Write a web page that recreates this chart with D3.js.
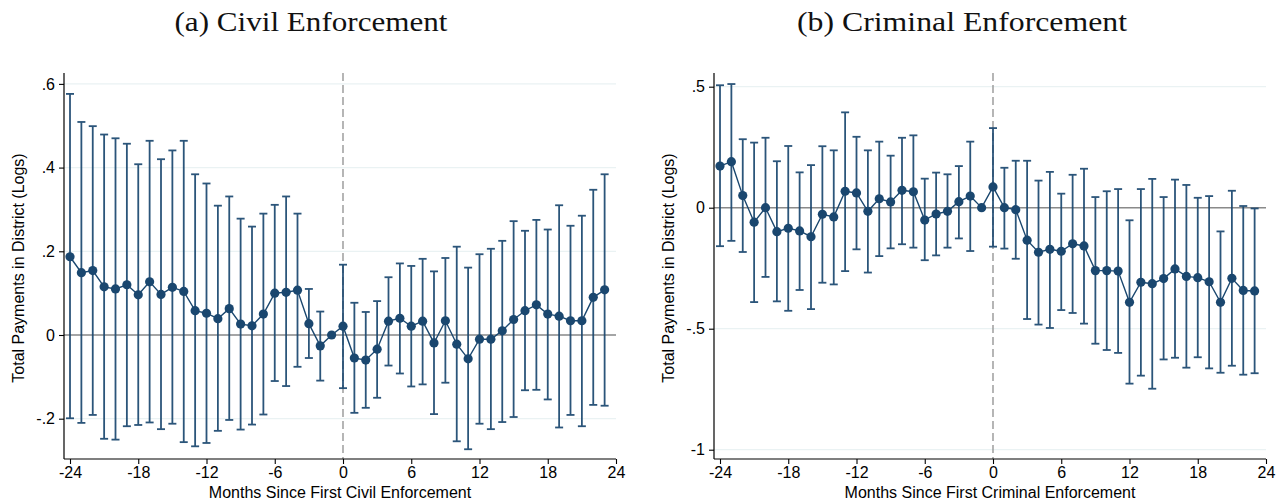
<!DOCTYPE html>
<html>
<head>
<meta charset="utf-8">
<script src="https://cdn.jsdelivr.net/npm/d3@7"></script>
<style>
  html, body { margin: 0; padding: 0; background: #fff; }
  svg { display: block; }
</style>
</head>
<body>
<svg id="chart" width="1285" height="503"></svg>
<script>
// Event-time months relative to first enforcement (-1 is the omitted reference month)
const months = [-24,-23,-22,-21,-20,-19,-18,-17,-16,-15,-14,-13,-12,-11,-10,-9,-8,-7,-6,-5,-4,-3,-2,-1,
                0,1,2,3,4,5,6,7,8,9,10,11,12,13,14,15,16,17,18,19,20,21,22,23];
const xTicks = [-24,-18,-12,-6,0,6,12,18,24];

// (a) Civil enforcement: coefficients and 95% CI bounds
const civilCoef = [0.187,0.149,0.154,0.115,0.110,0.120,0.096,0.127,0.097,0.114,0.104,0.058,0.052,0.039,0.063,0.026,0.022,0.050,0.100,0.102,0.107,0.027,-0.026,0,
                   0.021,-0.055,-0.060,-0.034,0.033,0.040,0.021,0.033,-0.019,0.034,-0.022,-0.057,-0.010,-0.010,0.010,0.037,0.058,0.072,0.050,0.045,0.034,0.034,0.090,0.108];
const civilUpper = [0.576,0.509,0.499,0.479,0.470,0.457,0.408,0.464,0.420,0.441,0.464,0.384,0.362,0.309,0.331,0.278,0.259,0.290,0.311,0.331,0.290,0.110,0.056,null,
                    0.168,0.077,0.055,0.081,0.138,0.171,0.165,0.182,0.152,0.184,0.211,0.161,0.193,0.206,0.225,0.272,0.249,0.275,0.252,0.310,0.261,0.285,0.347,0.384];
const civilLower = [-0.199,-0.210,-0.191,-0.248,-0.250,-0.218,-0.215,-0.209,-0.225,-0.212,-0.256,-0.266,-0.258,-0.229,-0.203,-0.226,-0.214,-0.190,-0.110,-0.122,-0.076,-0.055,-0.109,null,
                    -0.127,-0.186,-0.174,-0.150,-0.073,-0.092,-0.123,-0.118,-0.189,-0.114,-0.254,-0.273,-0.212,-0.225,-0.208,-0.196,-0.132,-0.131,-0.154,-0.221,-0.191,-0.218,-0.167,-0.169];
const civilYTicks = [-0.2, 0, 0.2, 0.4, 0.6];
const civilYLabels = ["-.2", "0", ".2", ".4", ".6"];

// (b) Criminal enforcement: coefficients and 95% CI bounds
const crimCoef = [0.172,0.190,0.050,-0.060,0.000,-0.099,-0.085,-0.096,-0.120,-0.027,-0.038,0.068,0.061,-0.015,0.037,0.024,0.072,0.066,-0.051,-0.026,-0.015,0.025,0.048,0,
                  0.086,0.000,-0.008,-0.134,-0.184,-0.172,-0.180,-0.149,-0.158,-0.260,-0.260,-0.262,-0.391,-0.308,-0.314,-0.293,-0.253,-0.284,-0.289,-0.306,-0.391,-0.292,-0.342,-0.344];
const crimUpper = [0.506,0.511,0.283,0.269,0.289,0.192,0.255,0.146,0.176,0.254,0.237,0.394,0.293,0.237,0.273,0.215,0.289,0.299,0.120,0.145,0.138,0.172,0.273,null,
                   0.329,0.165,0.194,0.194,0.112,0.148,0.058,0.136,0.161,0.044,0.068,0.077,-0.052,0.077,0.119,0.044,0.116,0.094,0.041,0.048,-0.098,0.070,0.007,-0.003];
const crimLower = [-0.159,-0.137,-0.183,-0.390,-0.286,-0.387,-0.426,-0.340,-0.419,-0.310,-0.317,-0.262,-0.172,-0.268,-0.200,-0.168,-0.151,-0.165,-0.217,-0.197,-0.165,-0.127,-0.179,null,
                   -0.161,-0.169,-0.211,-0.460,-0.483,-0.497,-0.423,-0.435,-0.479,-0.562,-0.588,-0.600,-0.727,-0.694,-0.748,-0.627,-0.620,-0.661,-0.618,-0.664,-0.682,-0.653,-0.690,-0.684];
const crimYTicks = [-1, -0.5, 0, 0.5];
const crimYLabels = ["-1", "-.5", "0", ".5"];

const NAVY = "#1a476f";
const GRID = "#eaf2f3";
const SANS = "'Liberation Sans', Arial, sans-serif";
const SERIF = "'Liberation Serif', 'DejaVu Serif', serif";

const svg = d3.select("#chart");

function drawPanel(opt) {
  const g = svg.append("g");
  const x = d3.scaleLinear().domain([-24, 24]).range([opt.x0, opt.x1]);
  const y = d3.scaleLinear().domain(opt.yDomain).range([459, 73]);
  const left = opt.axisX;

  // Panel title
  g.append("text")
    .attr("x", opt.titleX).attr("y", 31)
    .attr("text-anchor", "middle")
    .attr("textLength", opt.titleWidth).attr("lengthAdjust", "spacingAndGlyphs")
    .style("font-family", SERIF).style("font-size", "27px").style("fill", "#111")
    .text(opt.title);

  // Horizontal gridlines
  g.selectAll("line.grid").data(opt.yTicks).join("line")
    .attr("class", "grid")
    .attr("x1", left).attr("x2", x(24))
    .attr("y1", d => y(d)).attr("y2", d => y(d))
    .attr("stroke", GRID).attr("stroke-width", 1.2);

  // Zero reference line
  g.append("line")
    .attr("x1", left).attr("x2", x(24))
    .attr("y1", y(0)).attr("y2", y(0))
    .attr("stroke", "#8a8a8a").attr("stroke-width", 1.4);

  // Event date marker
  g.append("line")
    .attr("x1", x(0)).attr("x2", x(0))
    .attr("y1", 73).attr("y2", 459)
    .attr("stroke", "#8f8f8f").attr("stroke-width", 1.3)
    .attr("stroke-dasharray", "8,4");

  // Confidence intervals with caps
  const ci = months.map((m, i) => ({ m, lo: opt.lower[i], hi: opt.upper[i] }))
                   .filter(d => d.lo !== null && d.hi !== null);
  const cap = 4;
  const cig = g.append("g").attr("stroke", NAVY).attr("stroke-width", 1.8).attr("opacity", 0.92);
  cig.selectAll("line.spike").data(ci).join("line")
    .attr("x1", d => x(d.m)).attr("x2", d => x(d.m))
    .attr("y1", d => y(d.lo)).attr("y2", d => y(d.hi));
  cig.selectAll("line.capHi").data(ci).join("line")
    .attr("x1", d => x(d.m) - cap).attr("x2", d => x(d.m) + cap)
    .attr("y1", d => y(d.hi)).attr("y2", d => y(d.hi));
  cig.selectAll("line.capLo").data(ci).join("line")
    .attr("x1", d => x(d.m) - cap).attr("x2", d => x(d.m) + cap)
    .attr("y1", d => y(d.lo)).attr("y2", d => y(d.lo));

  // Connected point estimates
  const pts = months.map((m, i) => ({ m, v: opt.coef[i] }));
  g.append("path").datum(pts)
    .attr("fill", "none").attr("stroke", NAVY).attr("stroke-width", 1.4)
    .attr("d", d3.line().x(d => x(d.m)).y(d => y(d.v)));
  g.selectAll("circle.pt").data(pts).join("circle")
    .attr("cx", d => x(d.m)).attr("cy", d => y(d.v)).attr("r", 4.6)
    .attr("fill", NAVY);

  // Y axis
  const yAxis = g.append("g").attr("transform", `translate(${left},0)`)
    .call(d3.axisLeft(y).tickValues(opt.yTicks).tickSize(5).tickPadding(4)
      .tickFormat((d, i) => opt.yLabels[i]));
  yAxis.select(".domain").attr("d", `M0,73V459`).attr("stroke", "#000").attr("stroke-width", 1.2);
  yAxis.selectAll(".tick line").attr("stroke", "#000").attr("stroke-width", 1.1);
  yAxis.selectAll(".tick text").style("font-family", SANS).style("font-size", "16px").style("fill", "#000");

  // X axis (plain hyphen for negative labels)
  const xAxis = g.append("g").attr("transform", "translate(0,459)")
    .call(d3.axisBottom(x).tickValues(xTicks).tickSize(5).tickPadding(3).tickFormat(d => String(d)));
  xAxis.select(".domain").attr("d", `M${left},0H${x(24)}`).attr("stroke", "#000").attr("stroke-width", 1.2);
  xAxis.selectAll(".tick line").attr("stroke", "#000").attr("stroke-width", 1.1);
  xAxis.selectAll(".tick text").style("font-family", SANS).style("font-size", "16px").style("fill", "#000")
    .attr("dy", "0.71em");

  // Axis titles
  g.append("text")
    .attr("x", opt.xTitleX).attr("y", 498)
    .attr("text-anchor", "middle")
    .style("font-family", SANS).style("font-size", "16px").style("fill", "#000")
    .text(opt.xTitle);
  g.append("text")
    .attr("transform", `translate(${opt.yTitleX},268) rotate(-90)`)
    .attr("text-anchor", "middle")
    .style("font-family", SANS).style("font-size", "16px").style("fill", "#000")
    .text("Total Payments in District (Logs)");
}

drawPanel({
  title: "(a) Civil Enforcement", titleX: 311, titleWidth: 273,
  x0: 70, x1: 616, axisX: 64,
  yDomain: [-0.2963, 0.626],
  yTicks: civilYTicks, yLabels: civilYLabels,
  coef: civilCoef, upper: civilUpper, lower: civilLower,
  xTitle: "Months Since First Civil Enforcement", xTitleX: 340, yTitleX: 24
});

drawPanel({
  title: "(b) Criminal Enforcement", titleX: 962, titleWidth: 330,
  x0: 720, x1: 1266, axisX: 714,
  yDomain: [-1.0384, 0.5566],
  yTicks: crimYTicks, yLabels: crimYLabels,
  coef: crimCoef, upper: crimUpper, lower: crimLower,
  xTitle: "Months Since First Criminal Enforcement", xTitleX: 990, yTitleX: 674
});
</script>
</body>
</html>
